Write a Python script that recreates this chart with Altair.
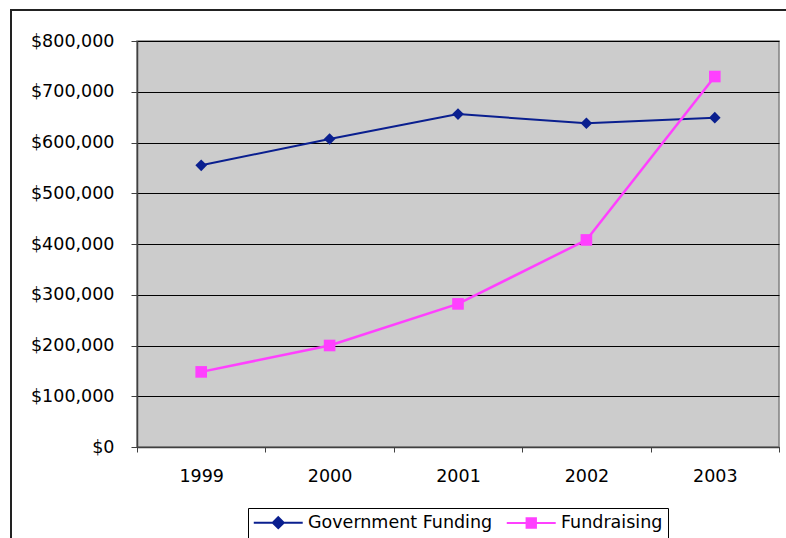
import altair as alt
import pandas as pd

# Funding by source, 1999-2003
years = ["1999", "2000", "2001", "2002", "2003"]
government_funding = [555000, 607000, 656000, 638000, 649000]
fundraising = [148000, 200000, 282000, 408000, 730000]

series_names = ["Government Funding", "Fundraising"]
series_colors = ["#0a1f8f", "#ff40ff"]

# legend keys: a short line with the series marker in its middle
legend_paths = [
    "M-4.45,0L4.45,0M0,-1L1,0L0,1L-1,0Z",
    "M-4.45,0L4.45,0M-0.85,-0.85L0.85,-0.85L0.85,0.85L-0.85,0.85Z",
]

rows = []
for name, values in zip(series_names, [government_funding, fundraising]):
    for yr, v in zip(years, values):
        rows.append({"year": yr, "series": name, "value": v})
df = pd.DataFrame(rows)

FONT = "DejaVu Sans"
FONT_SIZE = 17.5

x_enc = alt.X(
    "year:N",
    sort=years,
    scale=alt.Scale(type="band", domain=years, paddingInner=0, paddingOuter=0),
    axis=alt.Axis(
        title=None,
        labelAngle=0,
        tickBand="extent",
        tickSize=5,
        labelPadding=15,
        grid=False,
        domainColor="#404040",
        domainWidth=1.5,
        tickColor="#404040",
        tickWidth=1,
    ),
)
y_enc = alt.Y(
    "value:Q",
    scale=alt.Scale(domain=[0, 800000], nice=False, zero=True),
    axis=alt.Axis(
        title=None,
        values=list(range(0, 800001, 100000)),
        format="$,.0f",
        tickSize=6,
        labelPadding=17,
        grid=True,
        gridColor="#000000",
        gridWidth=1,
        domainColor="#404040",
        domainWidth=1.5,
        tickColor="#404040",
        tickWidth=1,
    ),
)

base = alt.Chart(df).encode(x=x_enc, y=y_enc)

gov = base.transform_filter(alt.datum.series == series_names[0])
fund = base.transform_filter(alt.datum.series == series_names[1])

gov_line = gov.mark_line(color=series_colors[0], strokeWidth=2)
gov_pts = gov.mark_point(
    shape="diamond", filled=True, size=135, opacity=1, color=series_colors[0]
)
fund_line = fund.mark_line(color=series_colors[1], strokeWidth=2.5)
fund_pts = fund.mark_point(
    shape="square", filled=True, size=135, opacity=1, color=series_colors[1]
)

legend_opts = dict(
    title=None,
    orient="none",
    legendX=111,
    legendY=467,
    direction="horizontal",
    symbolSize=121,
    symbolStrokeWidth=2,
    symbolOffset=16,
    labelOffset=21,
    labelLimit=0,
    columnPadding=10,
    padding=5.5,
    strokeColor="#000000",
    fillColor="#ffffff",
    labelFont=FONT,
    labelFontSize=FONT_SIZE,
    labelColor="#000000",
)

legend_layer = (
    base.transform_filter("false")
    .mark_point(filled=True, opacity=1, strokeWidth=2)
    .encode(
        fill=alt.Fill(
            "series:N",
            scale=alt.Scale(domain=series_names, range=series_colors),
            legend=alt.Legend(**legend_opts),
        ),
        stroke=alt.Stroke(
            "series:N",
            scale=alt.Scale(domain=series_names, range=series_colors),
            legend=alt.Legend(**legend_opts),
        ),
        shape=alt.Shape(
            "series:N",
            scale=alt.Scale(domain=series_names, range=legend_paths),
            legend=alt.Legend(**legend_opts),
        ),
    )
)

# outer frame of the chart area (left and top edges)
frame_left = alt.Chart(alt.Data(values=[{}])).mark_rule(
    color="#222222", strokeWidth=2
).encode(x=alt.value(-126), y=alt.value(-31), y2=alt.value(600))
frame_top = alt.Chart(alt.Data(values=[{}])).mark_rule(
    color="#222222", strokeWidth=2
).encode(x=alt.value(-127), x2=alt.value(800), y=alt.value(-31))

chart = (
    alt.layer(
        gov_line, gov_pts, fund_line, fund_pts, legend_layer, frame_left, frame_top
    )
    .properties(
        width=642,
        height=406,
        autosize=alt.AutoSizeParams(type="none"),
        padding={"left": 137, "top": 41, "right": 7, "bottom": 91},
        background="#ffffff",
    )
    .configure_view(stroke="#808080", strokeWidth=1.5, fill="#cccccc")
    .configure_axis(
        labelFont=FONT,
        labelFontSize=FONT_SIZE,
        labelColor="#000000",
    )
)

chart.save("out.html", embed_options={"renderer": "svg", "actions": False})
